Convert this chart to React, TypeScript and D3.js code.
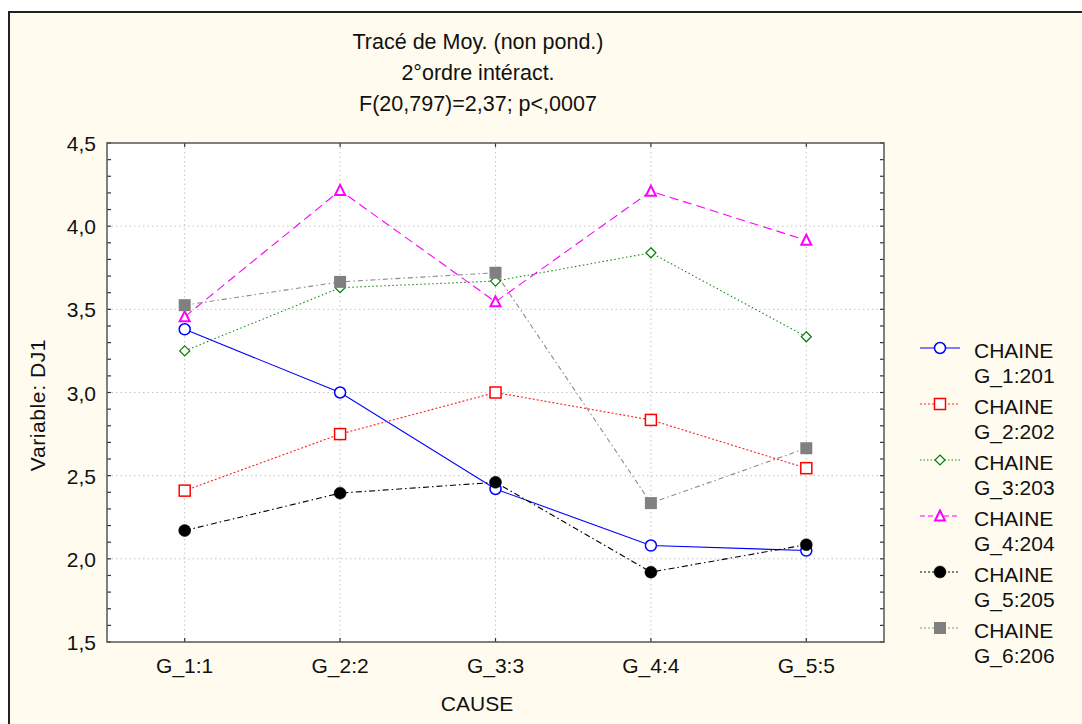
import React from "react";
import * as d3 from "d3";

const categories = ["G_1:1", "G_2:2", "G_3:3", "G_4:4", "G_5:5"];
const yTicks = [1.5, 2.0, 2.5, 3.0, 3.5, 4.0, 4.5];
const titleLines = ["Tracé de Moy. (non pond.)", "2°ordre intéract.", "F(20,797)=2,37; p<,0007"];

const s201 = [3.38, 3.0, 2.42, 2.08, 2.05];
const s202 = [2.41, 2.75, 3.0, 2.835, 2.545];
const s203 = [3.25, 3.63, 3.67, 3.84, 3.335];
const s204 = [3.455, 4.215, 3.545, 4.21, 3.915];
const s205 = [2.17, 2.395, 2.46, 1.92, 2.085];
const s206 = [3.525, 3.665, 3.72, 2.335, 2.665];

const seriesNames = [["CHAINE", "G_1:201"], ["CHAINE", "G_2:202"], ["CHAINE", "G_3:203"], ["CHAINE", "G_4:204"], ["CHAINE", "G_5:205"], ["CHAINE", "G_6:206"]];
const seriesValues = [s201, s202, s203, s204, s205, s206];
const styles = [
  { color: "#0000ff", dash: "none", legendDash: "none", marker: "circle", fill: "#ffffff", lineColor: "#0000ff" },
  { color: "#ff0000", dash: "2,2", legendDash: "2,2", marker: "square", fill: "#ffffff", lineColor: "#ff2020" },
  { color: "#008000", dash: "1.5,2.5", legendDash: "1.5,2", marker: "diamond", fill: "#ffffff", lineColor: "#1a8a1a" },
  { color: "#ff00ff", dash: "9,5", legendDash: "5,3", marker: "triangle", fill: "#ffffff", lineColor: "#ff00ff" },
  { color: "#000000", dash: "6,3,1.5,3", legendDash: "2,2", marker: "dot", fill: "#000000", lineColor: "#000000" },
  { color: "#808080", dash: "5,3,1.5,3", legendDash: "2,2", marker: "fsquare", fill: "#808080", lineColor: "#8c8c8c" },
];

const FONT = "'Liberation Sans', Arial, Helvetica, sans-serif";

function Marker({ type, x, y, color, fill }: { type: string; x: number; y: number; color: string; fill: string }) {
  switch (type) {
    case "circle":
      return <circle cx={x} cy={y} r={5.5} fill={fill} stroke={color} strokeWidth={1.5} />;
    case "square":
      return <rect x={x - 5.5} y={y - 5.5} width={11} height={11} fill={fill} stroke={color} strokeWidth={1.5} />;
    case "diamond":
      return <path d={`M${x},${y - 5}L${x + 5},${y}L${x},${y + 5}L${x - 5},${y}Z`} fill={fill} stroke={color} strokeWidth={1.2} />;
    case "triangle":
      return <path d={`M${x},${y - 5.5}L${x + 5},${y + 4.5}L${x - 5},${y + 4.5}Z`} fill={fill} stroke={color} strokeWidth={2} />;
    case "dot":
      return <circle cx={x} cy={y} r={6} fill={fill} stroke={color} strokeWidth={0.5} />;
    default:
      return <rect x={x - 6} y={y - 6} width={12} height={12} fill={fill} stroke="none" />;
  }
}

export default function App() {
  const W = 1082, H = 724;
  const left = 107, right = 884, top = 143, bottom = 642;
  const x = d3.scalePoint<string>().domain(categories).range([left, right]).padding(0.5);
  const y = d3.scaleLinear().domain([1.5, 4.5]).range([bottom, top]);
  const minor = d3.range(15, 46).map((v) => v / 10);
  const line = d3.line<number>().x((_, i) => x(categories[i]) as number).y((d) => y(d));

  return (
    <svg width={W} height={H} style={{ position: "absolute", left: 0, top: 0, display: "block" }} fontFamily={FONT}>
      <rect x={0} y={0} width={W} height={H} fill="#ffffff" />
      <rect x={9} y={12} width={W + 10} height={H + 10} fill="#fffcef" stroke="#222" strokeWidth={2} />
      <rect x={left} y={top} width={right - left} height={bottom - top} fill="#ffffff" />
      {/* grid */}
      {yTicks.slice(1, -1).map((t) => (
        <line key={"gy" + t} x1={left} x2={right} y1={y(t)} y2={y(t)} stroke="#c4c4c4" strokeDasharray="1.5,3" />
      ))}
      {categories.map((c) => (
        <line key={"gx" + c} x1={x(c)} x2={x(c)} y1={top} y2={bottom} stroke="#c4c4c4" strokeDasharray="1.5,3" />
      ))}
      {/* minor ticks */}
      {minor.map((t) => (
        <g key={"mt" + t}>
          <line x1={left} x2={left + 4} y1={y(t)} y2={y(t)} stroke="#333" strokeWidth={1.2} />
          <line x1={right} x2={right - 4} y1={y(t)} y2={y(t)} stroke="#333" strokeWidth={1.2} />
        </g>
      ))}
      {categories.map((c) => (
        <g key={"xt" + c}>
          <line x1={x(c)} x2={x(c)} y1={top} y2={top + 4} stroke="#333" strokeWidth={1.2} />
          <line x1={x(c)} x2={x(c)} y1={bottom} y2={bottom - 4} stroke="#333" strokeWidth={1.2} />
        </g>
      ))}
      <rect x={left} y={top} width={right - left} height={bottom - top} fill="none" stroke="#555" strokeWidth={1.5} />
      {/* series */}
      {seriesValues.map((vals, si) => (
        <path key={"l" + si} d={line(vals) || ""} fill="none" stroke={styles[si].lineColor} strokeWidth={1.1} strokeDasharray={styles[si].dash} />
      ))}
      {seriesValues.map((vals, si) =>
        vals.map((v, i) => (
          <Marker key={"m" + si + "-" + i} type={styles[si].marker} x={x(categories[i]) as number} y={y(v)} color={styles[si].color} fill={styles[si].fill} />
        ))
      )}
      {/* y tick labels */}
      {yTicks.map((t) => (
        <text key={"yl" + t} x={96} y={y(t) + 8} textAnchor="end" fontSize={21} fill="#111">
          {d3.format(".1f")(t).replace(".", ",")}
        </text>
      ))}
      {categories.map((c) => (
        <text key={"xl" + c} x={x(c)} y={673} textAnchor="middle" fontSize={21} fill="#111">{c}</text>
      ))}
      <text x={477} y={711} textAnchor="middle" fontSize={21} fill="#111">CAUSE</text>
      <text transform={`translate(45,405) rotate(-90)`} textAnchor="middle" fontSize={21} letterSpacing={0.6} fill="#111">Variable: DJ1</text>
      {titleLines.map((t, i) => (
        <text key={"t" + i} x={478} y={49 + i * 31} textAnchor="middle" fontSize={21.5} fill="#111">{t}</text>
      ))}
      {/* legend */}
      {seriesNames.map((nm, si) => {
        const ly = 348 + si * 56;
        return (
          <g key={"lg" + si}>
            <line x1={920} x2={960} y1={ly} y2={ly} stroke={styles[si].lineColor} strokeWidth={1.1} strokeDasharray={styles[si].legendDash} />
            <Marker type={styles[si].marker} x={940} y={ly} color={styles[si].color} fill={styles[si].fill} />
            <text x={974} y={ly + 10} fontSize={21} fill="#111">{nm[0]}</text>
            <text x={974} y={ly + 35} fontSize={21} fill="#111">{nm[1]}</text>
          </g>
        );
      })}
    </svg>
  );
}
